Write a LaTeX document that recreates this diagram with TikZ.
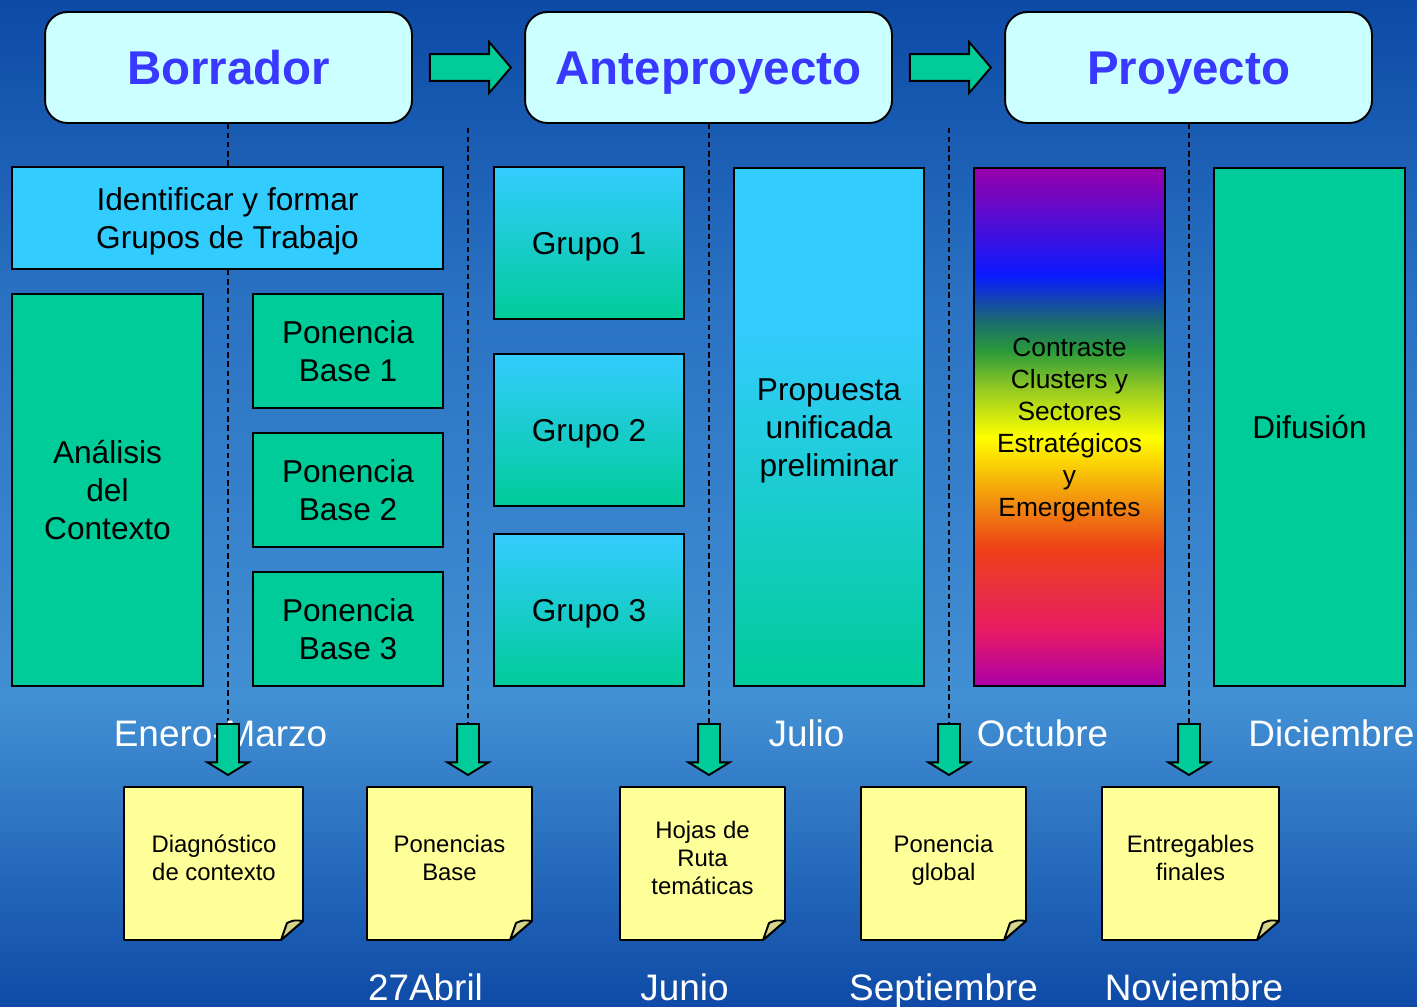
\documentclass[tikz,border=0pt]{standalone}
\usepackage{fontspec}
\setmainfont{Liberation Sans}
\usetikzlibrary{shapes.arrows,calc}
\definecolor{bgbot}{HTML}{0E4AA6}
\definecolor{bgmid}{HTML}{4290D4}
\definecolor{bgup}{HTML}{2A72C2}
\definecolor{bgtop}{HTML}{0C4AA6}
\definecolor{boxgreen}{HTML}{00CC99}
\definecolor{boxcyan}{HTML}{33CCFF}
\definecolor{hdrfill}{HTML}{CCFFFF}
\definecolor{hdrtext}{HTML}{3838FF}
\definecolor{notebg}{HTML}{FFFF99}
\definecolor{flapc}{HTML}{D4D48A}
\definecolor{rbA}{HTML}{AA00AA}
\definecolor{rbB}{HTML}{E81A64}
\definecolor{rbC}{HTML}{E83040}
\definecolor{rbD}{HTML}{EE4018}
\definecolor{rbE}{HTML}{F08010}
\definecolor{rbF}{HTML}{FFFF00}
\definecolor{rbG}{HTML}{99CC22}
\definecolor{rbH}{HTML}{2A9A3A}
\definecolor{rbI}{HTML}{1A6A70}
\definecolor{rbJ}{HTML}{0A1AFF}
\definecolor{rbK}{HTML}{9900AA}
\pgfdeclareverticalshading{bgshade}{100bp}{color(0bp)=(bgbot); color(25bp)=(bgbot); color(40.25bp)=(bgmid); color(60bp)=(bgup); color(75bp)=(bgtop); color(100bp)=(bgtop)}
\pgfdeclareverticalshading{rainbowshade}{100bp}{color(0bp)=(rbA); color(25bp)=(rbA); color(30.4bp)=(rbB); color(34.25bp)=(rbC); color(38.3bp)=(rbD); color(41.95bp)=(rbE); color(49bp)=(rbF); color(53.5bp)=(rbG); color(57.35bp)=(rbH); color(60.25bp)=(rbI); color(64.6bp)=(rbJ); color(75bp)=(rbK); color(100bp)=(rbK)}
\pgfdeclareverticalshading{propshade}{100bp}{color(0bp)=(boxgreen); color(25bp)=(boxgreen); color(60bp)=(boxcyan); color(75bp)=(boxcyan); color(100bp)=(boxcyan)}
\pgfdeclarelayer{back}
\pgfdeclarelayer{lines}
\pgfsetlayers{back,lines,main}
\newcommand\notepaper[4]{%
  \filldraw[fill=notebg,draw=black,line width=1.1pt,line join=round] (#1,#2) -- (#3,#2) -- (#3,#4-19) -- (#3-22,#4) -- (#1,#4) -- cycle;
  \filldraw[fill=flapc,draw=black,line width=1.1pt,line join=round] (#3-22,#4) -- (#3-16,#4-17) .. controls (#3-9,#4-20) .. (#3,#4-19) -- cycle;}
\begin{document}
\begin{tikzpicture}[x=0.02cm,y=-0.02cm,
  header/.style={draw=black, line width=1.1pt, rounded corners=0.45cm, fill=hdrfill, text=hdrtext,
    font=\fontsize{27}{32}\selectfont\bfseries, minimum width=7.34cm, minimum height=2.22cm,
    text height=19.4pt, text depth=0pt, inner sep=0pt},
  box/.style={draw=black, line width=1.1pt, inner sep=0pt, align=center, text=black,
    font=\fontsize{18}{21.8}\selectfont},
  gbox/.style={box, fill=boxgreen},
  oneline/.style={text height=12.9pt, text depth=0pt},
  twolines/.style={text height=34.7pt, text depth=0pt},
  threelines/.style={text height=56.5pt, text depth=0pt},
  grp/.style={box, oneline, top color=boxcyan, bottom color=boxgreen, minimum width=3.8cm, minimum height=3.04cm},
  pbox/.style={gbox, twolines, minimum width=3.8cm, minimum height=2.28cm},
  tall/.style={minimum width=3.81cm, minimum height=10.38cm},
  lbl/.style={text=white, font=\fontsize{21}{25}\selectfont, anchor=base, inner sep=0pt},
  notetxt/.style={align=center, inner sep=0pt, text=black, font=\fontsize{13.6}{16}\selectfont},
  rarrow/.style={single arrow, draw=black, line width=1.1pt, fill=boxgreen, inner sep=0pt,
    text height=0.5cm, text depth=0pt, text width=0pt,
    minimum height=1.62cm, single arrow head extend=0.24cm,
    single arrow tip angle=99, anchor=tail},
  darrow/.style={single arrow, draw=black, line width=1.1pt, fill=boxgreen, inner sep=0pt,
    text height=0.4cm, text depth=0pt, text width=0pt,
    minimum height=1.02cm, single arrow head extend=0.19cm,
    single arrow tip angle=117, rotate=-90, anchor=tail},
  dline/.style={draw=black, line width=0.9pt, dash pattern=on 3pt off 2.2pt}]

\begin{pgfonlayer}{back}
\fill[shading=bgshade] (0,0) rectangle (1417,1007);
\end{pgfonlayer}
\useasboundingbox (0,0) rectangle (1417,1007);

% headers
\node[header] (borr) at (228.5,67.5) {Borrador};
\node[header] (ante) at (708.5,67.5) {Anteproyecto};
\node[header] (proy) at (1188.5,67.5) {Proyecto};
\node[rarrow] (ra1) at ($(borr.east)+(16,0)$) {};
\node[rarrow] (ra2) at ($(ante.east)+(16,0)$) {};

% column 1
\node[box, twolines, fill=boxcyan, minimum width=8.62cm, minimum height=2.04cm] (ident) at (227.5,218) {Identificar y formar\\Grupos de Trabajo};
\node[gbox, threelines, minimum width=3.82cm, minimum height=7.84cm] (anal) at (107.5,490) {Análisis\\del\\Contexto};
\node[pbox] (pb1) at (348,351) {Ponencia\\Base 1};
\node[pbox] (pb2) at (348,490) {Ponencia\\Base 2};
\node[pbox] (pb3) at (348,629) {Ponencia\\Base 3};

% groups
\node[grp] (g1) at (589,243) {Grupo 1};
\node[grp] (g2) at (589,430) {Grupo 2};
\node[grp] (g3) at (589,610) {Grupo 3};

% tall columns
\node[box, tall, threelines, shading=propshade] (prop) at (829,427) {Propuesta\\unificada\\preliminar};
\node[box, tall, shading=rainbowshade, font=\fontsize{15}{18.2}\selectfont, text height=101.7pt, text depth=0pt] (rain) at (1069.5,427) {Contraste\\Clusters y\\Sectores\\Estratégicos\\y\\Emergentes};
\node[gbox, tall, oneline] (dif) at (1309.5,427) {Difusión};

% month labels
\node[lbl] (lEM) at (220.5,746) {Enero-Marzo};
\node[lbl] (lJul) at (806.5,746) {Julio};
\node[lbl] (lOct) at (1042.5,746) {Octubre};
\node[lbl] (lDic) at (1331.5,746) {Diciembre};
\node[lbl] (lAb) at (425.5,1000) {27Abril};
\node[lbl] (lJun) at (684.5,1000) {Junio};
\node[lbl] (lSep) at (943.5,1000) {Septiembre};
\node[lbl] (lNov) at (1194,1000) {Noviembre};

% down arrows
\node[darrow] (d1) at (228,723) {};
\node[darrow] (d2) at (468,723) {};
\node[darrow] (d3) at (709,723) {};
\node[darrow] (d4) at (949,723) {};
\node[darrow] (d5) at (1189,723) {};

% dashed time lines
\coordinate (top2) at (468,128);
\coordinate (top4) at (949,128);
\begin{pgfonlayer}{lines}
\draw[dline] (d1.tail |- borr.south) -- (d1.tail);
\draw[dline] (top2) -- (d2.tail);
\draw[dline] (d3.tail |- ante.south) -- (d3.tail);
\draw[dline] (top4) -- (d4.tail);
\draw[dline] (d5.tail |- proy.south) -- (d5.tail);
\end{pgfonlayer}

% notes
\notepaper{124}{787}{303}{940}
\notepaper{367}{787}{532}{940}
\notepaper{620}{787}{785}{940}
\notepaper{861}{787}{1026}{940}
\notepaper{1102}{787}{1279}{940}
\node[notetxt] (n1) at (214,858) {Diagnóstico\\de contexto};
\node[notetxt] (n2) at (449.5,858) {Ponencias\\Base};
\node[notetxt] (n3) at (702.5,858) {Hojas de\\Ruta\\temáticas};
\node[notetxt] (n4) at (943.5,860) {Ponencia\\global};
\node[notetxt] (n5) at (1190.5,858) {Entregables\\finales};
\end{tikzpicture}
\end{document}
